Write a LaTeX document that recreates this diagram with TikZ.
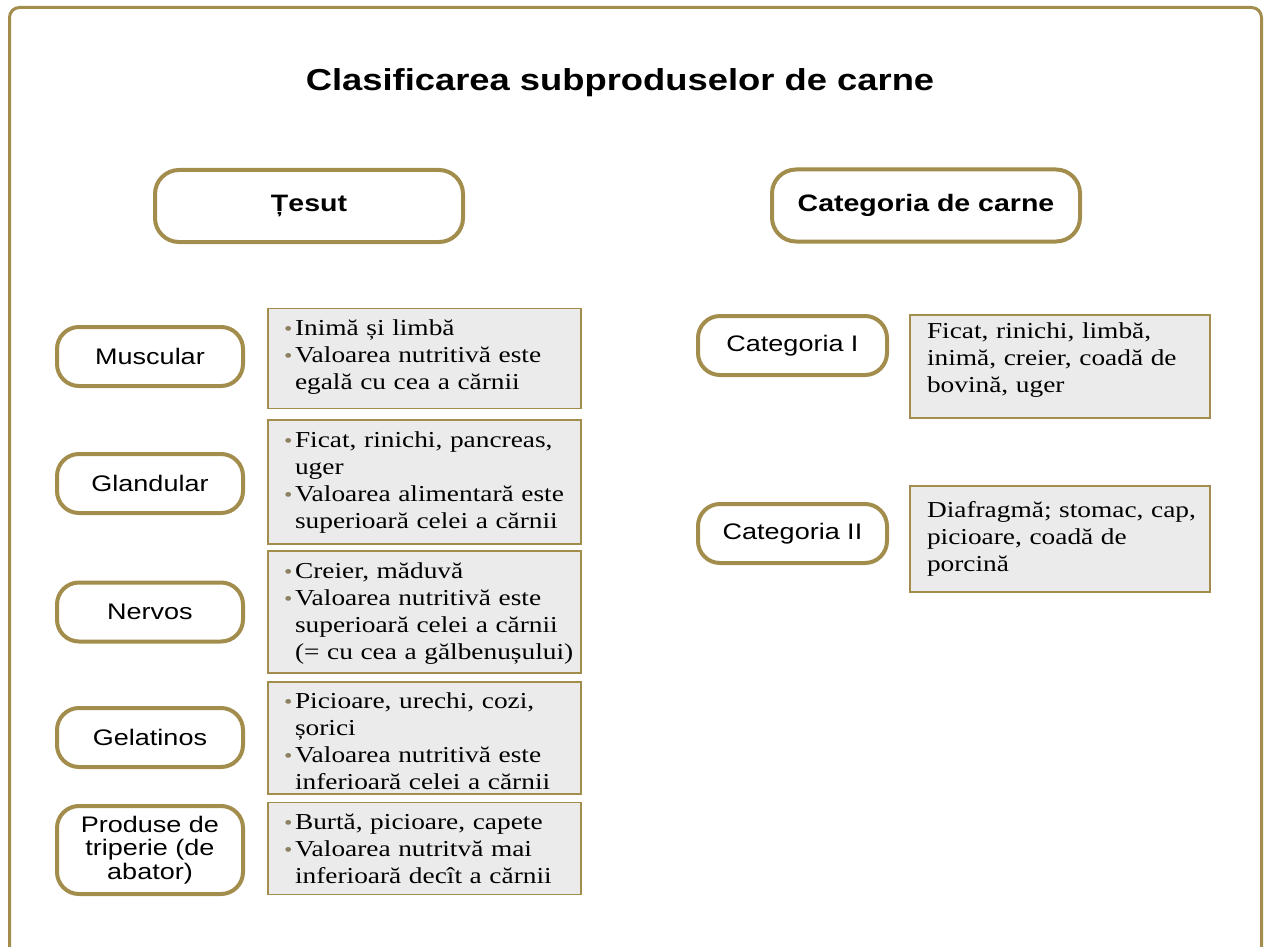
\documentclass[tikz,border=0pt]{standalone}
\usepackage{fontspec}
\setmainfont{Liberation Serif}[FakeStretch=1.2]
\setsansfont{Liberation Sans}[FakeStretch=1.2]
\usetikzlibrary{positioning}
\definecolor{framegold}{RGB}{162,141,76}
\definecolor{boxgray}{RGB}{235,235,235}
\definecolor{dotgray}{RGB}{140,128,96}
\newcommand\bul{\makebox[11pt][l]{\color{dotgray}\fontsize{20}{20}\selectfont\textbullet}}
\newcommand\itm[1]{\par\leftskip=16pt\noindent\bul#1}
\newcommand\nl{\newline\hspace*{11pt}}
\newcommand\pad[1]{\par\kern#1\relax}

\begin{document}
\begin{tikzpicture}[x=1pt,y=-1pt,
        head/.style={draw=framegold,line width=4pt,rounded corners=24pt,minimum width=308pt,minimum height=72pt,font=\sffamily\bfseries\fontsize{23.75}{28}\selectfont},
        kind/.style={draw=framegold,line width=4pt,rounded corners=22pt,minimum width=186pt,minimum height=59pt,align=center,font=\sffamily\fontsize{22.5}{23.5}\selectfont},
        info/.style={draw=framegold,line width=1.6pt,fill=boxgray,inner xsep=0pt,inner ysep=0pt,align=left,font=\fontsize{22.8}{27}\selectfont}]
        \useasboundingbox (0,0) rectangle (1264,947);
        \draw[framegold,line width=3pt,rounded corners=10pt] (9.5,960) -- (9.5,7.5) -- (1261.5,7.5) -- (1261.5,960);
        \node[font=\sffamily\bfseries\fontsize{30.3}{36}\selectfont] (title) at (620,83) {Clasificarea subproduselor de carne};
        % tesut
        \node[head] (tesut) at (309,206) {Țesut};
        \node[kind] (musc) at (150,356.5) {Muscular};
        \node[kind] (gland) at (150,483.5) {Glandular};
        \node[kind] (nerv) at (150,612) {Nervos};
        \node[kind] (gel) at (150,737.5) {Gelatinos};
        \node[kind,minimum height=88pt] (trip) at (150,850) {Produse de\\triperie (de\\abator)};
        \node[info,minimum width=313pt,minimum height=97pt,text width=313pt] (muscinfo) at (424.5,358.5)
            {\itm{Inimă și limbă}\itm{Valoarea nutritivă este\nl egală cu cea a cărnii}\pad{14pt}};
        \node[info,minimum width=313pt,minimum height=118pt,text width=313pt] (glandinfo) at (424.5,482)
            {\itm{Ficat, rinichi, pancreas,\nl uger}\itm{Valoarea alimentară este\nl superioară celei a cărnii}\pad{11pt}};
        \node[info,minimum width=313pt,minimum height=118pt,text width=313pt] (nervinfo) at (424.5,612)
            {\itm{Creier, măduvă}\itm{Valoarea nutritivă este\nl superioară celei a cărnii\nl (= cu cea a gălbenușului)}\pad{9pt}};
        \node[info,minimum width=313pt,minimum height=110pt,text width=313pt] (gelinfo) at (424.5,738)
            {\itm{Picioare, urechi, cozi,\nl șorici}\itm{Valoarea nutritivă este\nl inferioară celei a cărnii}\pad{4pt}};
        \node[info,minimum width=313pt,minimum height=91pt,text width=313pt] (tripinfo) at (424.5,848.5)
            {\itm{Burtă, picioare, capete}\itm{Valoarea nutritvă mai\nl inferioară decît a cărnii}\pad{11pt}};
        % categoria de carne
        \node[head] (categ) at (926,205.5) {Categoria de carne};
        \node[kind,minimum width=189pt] (cat1) at (792.5,345.5) {Categoria I};
        \node[kind,minimum width=189pt] (cat2) at (792.5,533.5) {Categoria II};
        \node[info,minimum width=300pt,minimum height=103pt,text width=300pt] (cat1info) at (1060,366.5)
            {\leftskip=17pt Ficat, rinichi, limbă,\\inimă, creier, coadă de\\bovină, uger\pad{13pt}};
        \node[info,minimum width=300pt,minimum height=106pt,text width=300pt] (cat2info) at (1060,539)
            {\leftskip=17pt Diafragmă; stomac, cap,\\picioare, coadă de\\porcină\par};
\end{tikzpicture}
\end{document}
